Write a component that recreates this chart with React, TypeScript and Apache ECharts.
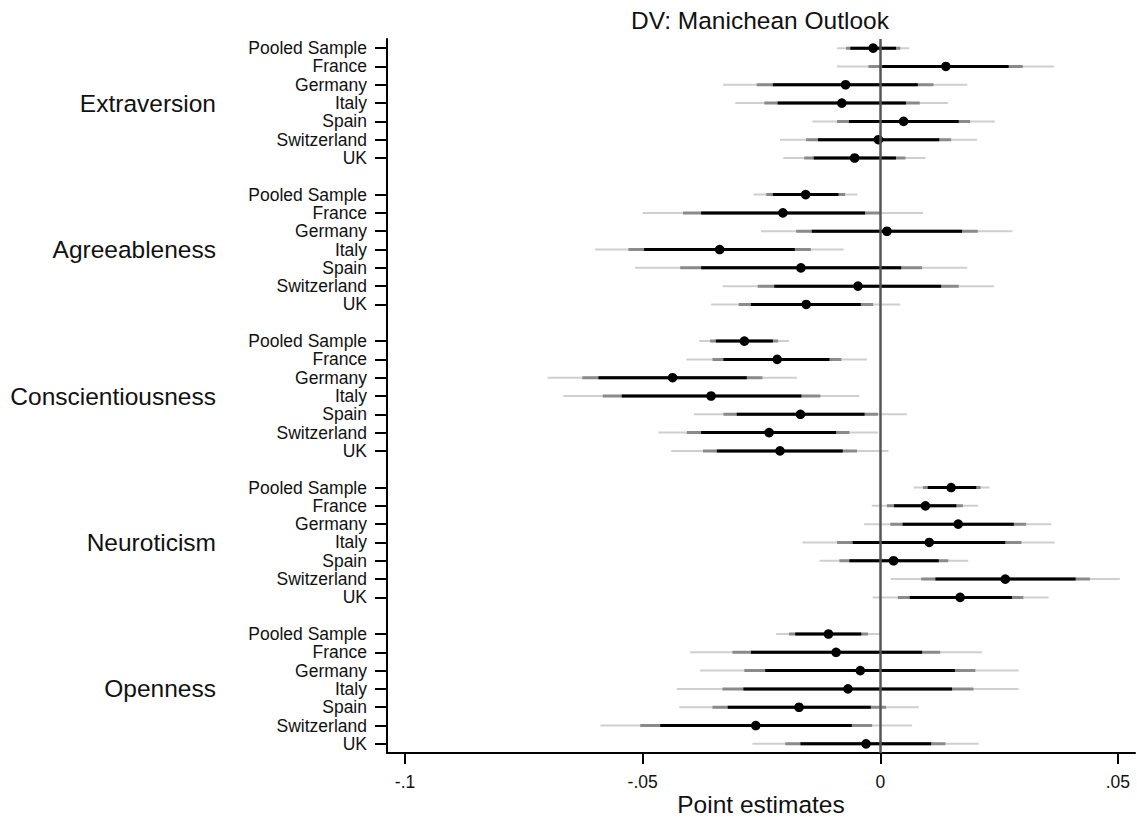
import React, { useEffect, useRef } from "react";
import * as echarts from "echarts";

const FONT = "'Liberation Sans', Arial, Helvetica, sans-serif";

const countries = ["Pooled Sample", "France", "Germany", "Italy", "Spain", "Switzerland", "UK"];
const traits = ["Extraversion", "Agreeableness", "Conscientiousness", "Neuroticism", "Openness"];

// Per country: estimate, 90% low, 90% high, 95% low, 95% high, 99% low, 99% high
const extraversion = [
  [-0.0015, -0.0063, 0.0033, -0.0072, 0.0042, -0.0091, 0.0061],
  [0.0138, 0.0004, 0.027, -0.0025, 0.03, -0.0091, 0.0365],
  [-0.0073, -0.0226, 0.0079, -0.026, 0.0112, -0.0331, 0.0183],
  [-0.0081, -0.0216, 0.0054, -0.0244, 0.0083, -0.0305, 0.0142],
  [0.0049, -0.0066, 0.0165, -0.0091, 0.0189, -0.0143, 0.0241],
  [-0.0004, -0.0131, 0.0124, -0.0156, 0.0149, -0.0211, 0.0204],
  [-0.0054, -0.014, 0.0033, -0.016, 0.0053, -0.0204, 0.0095],
];
const agreeableness = [
  [-0.0157, -0.0226, -0.0088, -0.024, -0.0074, -0.0267, -0.0048],
  [-0.0205, -0.0377, -0.0032, -0.0415, 0.0, -0.05, 0.009],
  [0.0014, -0.0144, 0.0172, -0.0177, 0.0205, -0.0251, 0.0278],
  [-0.0338, -0.0497, -0.018, -0.053, -0.0146, -0.06, -0.0077],
  [-0.0167, -0.0377, 0.0044, -0.0421, 0.0088, -0.0516, 0.0183],
  [-0.0047, -0.0223, 0.0128, -0.0258, 0.0165, -0.0332, 0.0239],
  [-0.0156, -0.0272, -0.0041, -0.0298, -0.0015, -0.0356, 0.0042],
];
const conscientiousness = [
  [-0.0286, -0.0346, -0.0226, -0.0358, -0.0215, -0.0381, -0.0192],
  [-0.0217, -0.033, -0.0107, -0.0353, -0.0082, -0.0408, -0.0028],
  [-0.0437, -0.0593, -0.0281, -0.0627, -0.0248, -0.07, -0.0175],
  [-0.0356, -0.0544, -0.0166, -0.0584, -0.0126, -0.0667, -0.0044],
  [-0.0168, -0.0302, -0.0033, -0.033, -0.0005, -0.0392, 0.0056],
  [-0.0234, -0.0377, -0.0093, -0.0407, -0.0065, -0.0467, -0.0005],
  [-0.0211, -0.0344, -0.0079, -0.0373, -0.0049, -0.044, 0.0017],
];
const neuroticism = [
  [0.0149, 0.01, 0.0202, 0.009, 0.0211, 0.007, 0.023],
  [0.0095, 0.0029, 0.016, 0.0014, 0.0174, -0.0018, 0.0206],
  [0.0164, 0.0047, 0.0281, 0.0021, 0.0307, -0.0034, 0.036],
  [0.0103, -0.0058, 0.0263, -0.0091, 0.0297, -0.0164, 0.0367],
  [0.0028, -0.0065, 0.0123, -0.0086, 0.0143, -0.0128, 0.0185],
  [0.0263, 0.0116, 0.0411, 0.0086, 0.0441, 0.0022, 0.0504],
  [0.0168, 0.0062, 0.0277, 0.0037, 0.0301, -0.0016, 0.0354],
];
const openness = [
  [-0.0109, -0.0179, -0.004, -0.0192, -0.0026, -0.0219, 0.0001],
  [-0.0093, -0.0272, 0.0088, -0.0311, 0.0126, -0.04, 0.0214],
  [-0.0042, -0.0242, 0.0157, -0.0286, 0.02, -0.0379, 0.0291],
  [-0.0068, -0.0288, 0.0151, -0.0332, 0.0196, -0.0428, 0.0291],
  [-0.0171, -0.0321, -0.002, -0.0353, 0.0012, -0.0423, 0.0081],
  [-0.0262, -0.0463, -0.006, -0.0505, -0.0017, -0.0589, 0.0067],
  [-0.003, -0.0168, 0.0107, -0.02, 0.0137, -0.0269, 0.0207],
];

const estimatesByTrait = [extraversion, agreeableness, conscientiousness, neuroticism, openness];

const xTickValues = [-0.1, -0.05, 0, 0.05];
const xTickLabels = ["-.1", "-.05", "0", ".05"];

const CI99_COLOR = "#cfcfcf";
const CI95_COLOR = "#8a8a8a";
const CI90_COLOR = "#000000";

function buildRows() {
  const rowLabels: string[] = [];
  const groupLabels: string[] = [];
  const items: number[][] = [];
  traits.forEach((trait, t) => {
    estimatesByTrait[t].forEach((vals, c) => {
      const idx = rowLabels.length;
      rowLabels.push(countries[c]);
      groupLabels.push(c === Math.floor(countries.length / 2) ? trait : "");
      items.push([idx, ...vals]);
    });
    if (t < traits.length - 1) {
      rowLabels.push("");
      groupLabels.push("");
    }
  });
  return { rowLabels, groupLabels, items };
}

export default function App() {
  const ref = useRef<HTMLDivElement>(null);

  useEffect(() => {
    if (!ref.current) return;
    const chart = echarts.init(ref.current, undefined, { renderer: "svg" });
    const { rowLabels, groupLabels, items } = buildRows();

    const renderItem = (_params: any, api: any) => {
      const row = api.value(0);
      const seg = (lo: number, hi: number, color: string, width: number) => {
        const a = api.coord([lo, row]);
        const b = api.coord([hi, row]);
        return {
          type: "line",
          shape: { x1: a[0], y1: a[1], x2: b[0], y2: b[1] },
          style: { stroke: color, lineWidth: width, lineCap: "butt" },
        };
      };
      const p = api.coord([api.value(1), row]);
      return {
        type: "group",
        children: [
          seg(api.value(6), api.value(7), CI99_COLOR, 2),
          seg(api.value(4), api.value(5), CI95_COLOR, 3),
          seg(api.value(2), api.value(3), CI90_COLOR, 3),
          { type: "circle", shape: { cx: p[0], cy: p[1], r: 4.8 }, style: { fill: "#000" } },
        ],
      };
    };

    chart.setOption({
      animation: false,
      backgroundColor: "#ffffff",
      textStyle: { fontFamily: FONT },
      title: {
        text: "DV: Manichean Outlook",
        left: 760,
        textAlign: "center",
        top: 8,
        padding: 0,
        textStyle: { fontFamily: FONT, fontSize: 24.5, fontWeight: "normal", color: "#111" },
      },
      grid: { left: 387, right: 2, top: 39, bottom: 64, outerBoundsMode: "none" },
      xAxis: {
        type: "value",
        min: -0.1038,
        max: 0.0536,
        name: "Point estimates",
        nameLocation: "middle",
        nameGap: 39,
        nameMoveOverlap: false,
        nameTextStyle: { fontFamily: FONT, fontSize: 24.5, color: "#111" },
        splitLine: { show: false },
        axisLine: { show: true, onZero: false, lineStyle: { color: "#000", width: 2 } },
        axisTick: { show: true, length: 11, customValues: xTickValues, lineStyle: { color: "#000", width: 2 } },
        axisLabel: {
          customValues: xTickValues,
          margin: 20,
          fontFamily: FONT,
          fontSize: 17.5,
          color: "#111",
          formatter: (v: number) => {
            const i = xTickValues.findIndex((t) => Math.abs(t - v) < 1e-9);
            return i >= 0 ? xTickLabels[i] : "";
          },
        },
      },
      yAxis: [
        {
          type: "category",
          data: rowLabels,
          inverse: true,
          position: "left",
          axisLine: { show: true, onZero: false, lineStyle: { color: "#000", width: 2 } },
          axisTick: {
            show: true,
            alignWithLabel: true,
            length: 12,
            interval: (idx: number) => rowLabels[idx] !== "",
            lineStyle: { color: "#000", width: 2 },
          },
          axisLabel: { interval: 0, margin: 20, fontFamily: FONT, fontSize: 17.5, color: "#111" },
          splitLine: { show: false },
        },
        {
          type: "category",
          data: groupLabels,
          inverse: true,
          position: "left",
          axisLine: { show: false, onZero: false },
          axisTick: { show: false },
          axisLabel: { interval: 0, margin: 171, fontFamily: FONT, fontSize: 24.5, color: "#111" },
          splitLine: { show: false },
        },
      ],
      series: [
        {
          type: "line",
          data: [],
          z: 1,
          silent: true,
          markLine: {
            silent: true,
            symbol: "none",
            label: { show: false },
            lineStyle: { color: "#555", width: 2.5, type: "solid" },
            data: [{ xAxis: 0 }],
          },
        },
        {
          type: "custom",
          z: 2,
          yAxisIndex: 0,
          renderItem,
          encode: { x: [1, 2, 3, 4, 5, 6, 7], y: 0 },
          data: items,
        },
      ],
    });

    return () => chart.dispose();
  }, []);

  return (
    <div
      ref={ref}
      style={{ position: "absolute", left: 0, top: 0, width: 1137, height: 817, background: "#fff" }}
    />
  );
}
